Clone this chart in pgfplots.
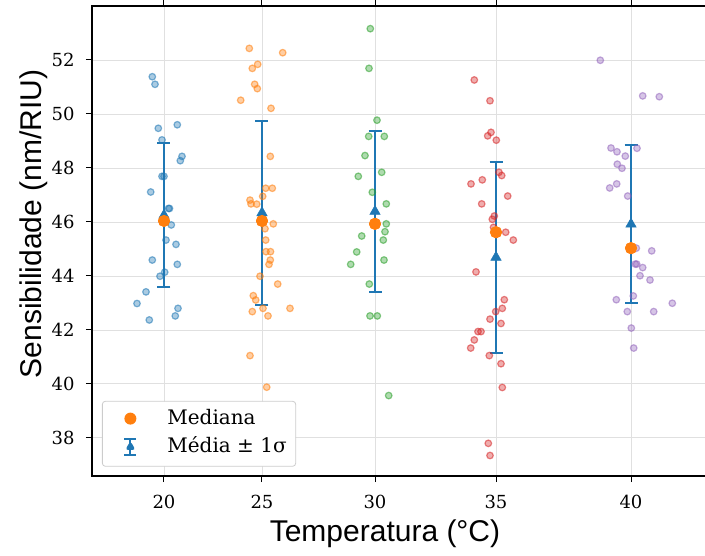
\documentclass[border=0pt]{standalone}
\usepackage{fontspec}
\setmainfont{DejaVu Serif}
\newfontfamily\labelfont{Liberation Sans}
\usepackage{pgfplots}
\pgfplotsset{compat=1.18}
\definecolor{tabblue}{HTML}{1F77B4}
\definecolor{taborange}{HTML}{FF7F0E}
\definecolor{tabgreen}{HTML}{2CA02C}
\definecolor{tabred}{HTML}{D62728}
\definecolor{tabpurple}{HTML}{9467BD}
\pgfplotsset{
  pts/.style={only marks, mark=*, mark size=3.3pt, forget plot,
    mark options={draw=#1, fill=#1, fill opacity=0.38, draw opacity=0.55, line width=1.2pt}},
}
\begin{document}
\begin{tikzpicture}
\begin{axis}[
  at={(0,0)}, anchor=south west,
  scale only axis, width=616pt, height=470pt,
  xmin=92, xmax=708, ymin=36.59, ymax=54.0,
  xtick={164,262,375,496,631}, xticklabels={20,25,30,35,40},
  ytick={38,40,...,52},
  tick align=outside, major tick length=6pt,
  tick style={black, line width=1pt},
  axis line style={line width=1.5pt},
  grid=major, major grid style={color=black!12, line width=0.9pt},
  ticklabel style={font=\fontsize{18}{20}\selectfont},
  yticklabel style={anchor=east, xshift=-8pt},
  xticklabel style={anchor=north, yshift=-10pt},
  /pgf/number format/assume math mode=true,
  xlabel={\labelfont\fontsize{30}{34}\selectfont Temperatura (°C)},
  ylabel={\labelfont\fontsize{30}{34}\selectfont Sensibilidade (nm/RIU)},
  xlabel style={at={(axis description cs:0.4756,-0.1398)}, anchor=base},
  ylabel style={at={(axis description cs:-0.0817,0.536)}, anchor=base},
  legend style={at={(axis description cs:0.0162,0.0198)}, anchor=south west,
    draw=black!20, line width=0.8pt, rounded corners=3pt, fill=white,
    font=\fontsize{20}{22}\selectfont, inner xsep=9pt, inner ysep=8.3pt,
    row sep=8.3pt,
    nodes={inner sep=0pt, text height=15pt, text depth=5pt}},
  legend cell align=left,
]
% scatter points
\addplot[pts=tabblue] table {
x y
152.3 51.38
155 51.1
158.3 49.47
177.3 49.6
162 49.04
182 48.43
180.3 48.27
162 47.69
164 47.69
150.7 47.11
168.5 46.5
169.5 46.5
171.3 45.89
166 45.33
176 45.17
152.3 44.59
177.3 44.43
164.7 44.14
160 43.99
146 43.41
137 42.98
178 42.80
175.3 42.52
149.3 42.37
};
\addplot[pts=taborange] table {
x y
249.3 52.43
282.7 52.27
257.7 51.84
252.3 51.69
254.7 51.1
257.3 50.94
240.7 50.51
271 50.21
270.3 48.43
265.7 47.25
272.3 47.25
262.7 46.95
250 46.81
251 46.67
256.7 46.66
273.3 45.93
265 45.75
265.7 45.33
266 44.9
270.5 44.9
270.3 44.59
269 44.43
260 43.99
277.7 43.70
253.3 43.27
255.7 43.11
290 42.80
263 42.8
252.3 42.68
268 42.52
250 41.05
266.7 39.88
};
\addplot[pts=tabgreen] table {
x y
370.3 53.16
369 51.69
377 49.77
368.7 49.17
384.3 49.17
365 48.46
358.3 47.69
381.7 47.84
372.3 47.10
386.3 46.67
386.3 45.93
385 45.64
361.7 45.48
383.3 45.33
356.7 44.89
350.7 44.43
384 44.59
369.3 43.70
370 42.52
377.3 42.52
388.7 39.57
};
\addplot[pts=tabred] table {
x y
474.3 51.26
490 50.49
491 49.32
487.7 49.19
496.3 49.03
499 47.84
501.7 47.72
482.3 47.56
471 47.41
507.7 46.96
481.7 46.67
494.3 46.22
492.3 46.10
493.5 45.8
505.7 45.62
513.3 45.33
476 44.15
504.3 43.12
502.3 42.80
495.7 42.68
490 42.40
501 42.24
478 41.94
481 41.94
474.3 41.63
470.7 41.33
489.3 41.05
501 40.75
502.3 39.87
488.3 37.8
490 37.35
};
\addplot[pts=tabpurple] table {
x y
600.3 51.99
642.7 50.67
659.3 50.64
611 48.74
637 48.73
617 48.6
625.3 48.44
617.3 48.14
622 47.99
616.7 47.41
609.7 47.26
627.7 46.96
636.3 45.03
651.7 44.93
635.3 44.44
636.7 44.44
642.7 44.31
640 44.01
650 43.85
633.3 43.26
616.3 43.12
672.3 42.99
627.3 42.68
653.7 42.68
631.3 42.07
633.7 41.33
};
% median (legend entry first)
\addplot[only marks, mark=*, mark size=5.5pt, color=taborange,
  mark options={fill=taborange, draw=taborange, line width=1pt},
  legend image code/.code={\path[draw=none] (0pt,0pt) -- (56pt,0pt); \fill[taborange, draw=none] (19pt,1pt) circle (6pt);}]
  table {
x y
164 46.04
262 46.04
375 45.93
496 45.62
631 45.03
};
\addlegendentry{Mediana}
% mean +- 1 sigma
\addplot[only marks, mark=triangle*, mark size=6pt, color=tabblue,
  mark options={fill=tabblue, draw=tabblue, line width=0.5pt},
  legend image code/.code={
    \path[draw=none] (0pt,0pt) -- (56pt,0pt);
    \draw[tabblue, line width=2.2pt] (19pt,-7pt) -- (19pt,9pt);
    \draw[tabblue, line width=2pt] (13pt,-7pt) -- (25pt,-7pt) (13pt,9pt) -- (25pt,9pt);
    \fill[tabblue, draw=none] (19pt,1pt) ++(90:6pt) -- ++(-120:10.4pt) -- ++(0:10.4pt) -- cycle;},
  error bars/.cd, y dir=both, y explicit,
  error bar style={line width=2.2pt, color=tabblue},
  error mark options={rotate=90, mark size=6.5pt, line width=2pt, color=tabblue}]
  table[x=x, y=y, y error=e] {
x y e
164 46.25 2.66
262 46.34 3.40
375 46.39 2.98
496 44.69 3.54
631 45.92 2.93
};
\addlegendentry{Média ± 1σ}
% median again on top
\addplot[only marks, mark=*, mark size=5.5pt, color=taborange, forget plot,
  mark options={fill=taborange, draw=taborange, line width=1pt}]
  table {
x y
164 46.04
262 46.04
375 45.93
496 45.62
631 45.03
};
\end{axis}
\pgfresetboundingbox
\path[use as bounding box] (-92pt,-79pt) rectangle (613pt,476pt);
\end{tikzpicture}
\end{document}
